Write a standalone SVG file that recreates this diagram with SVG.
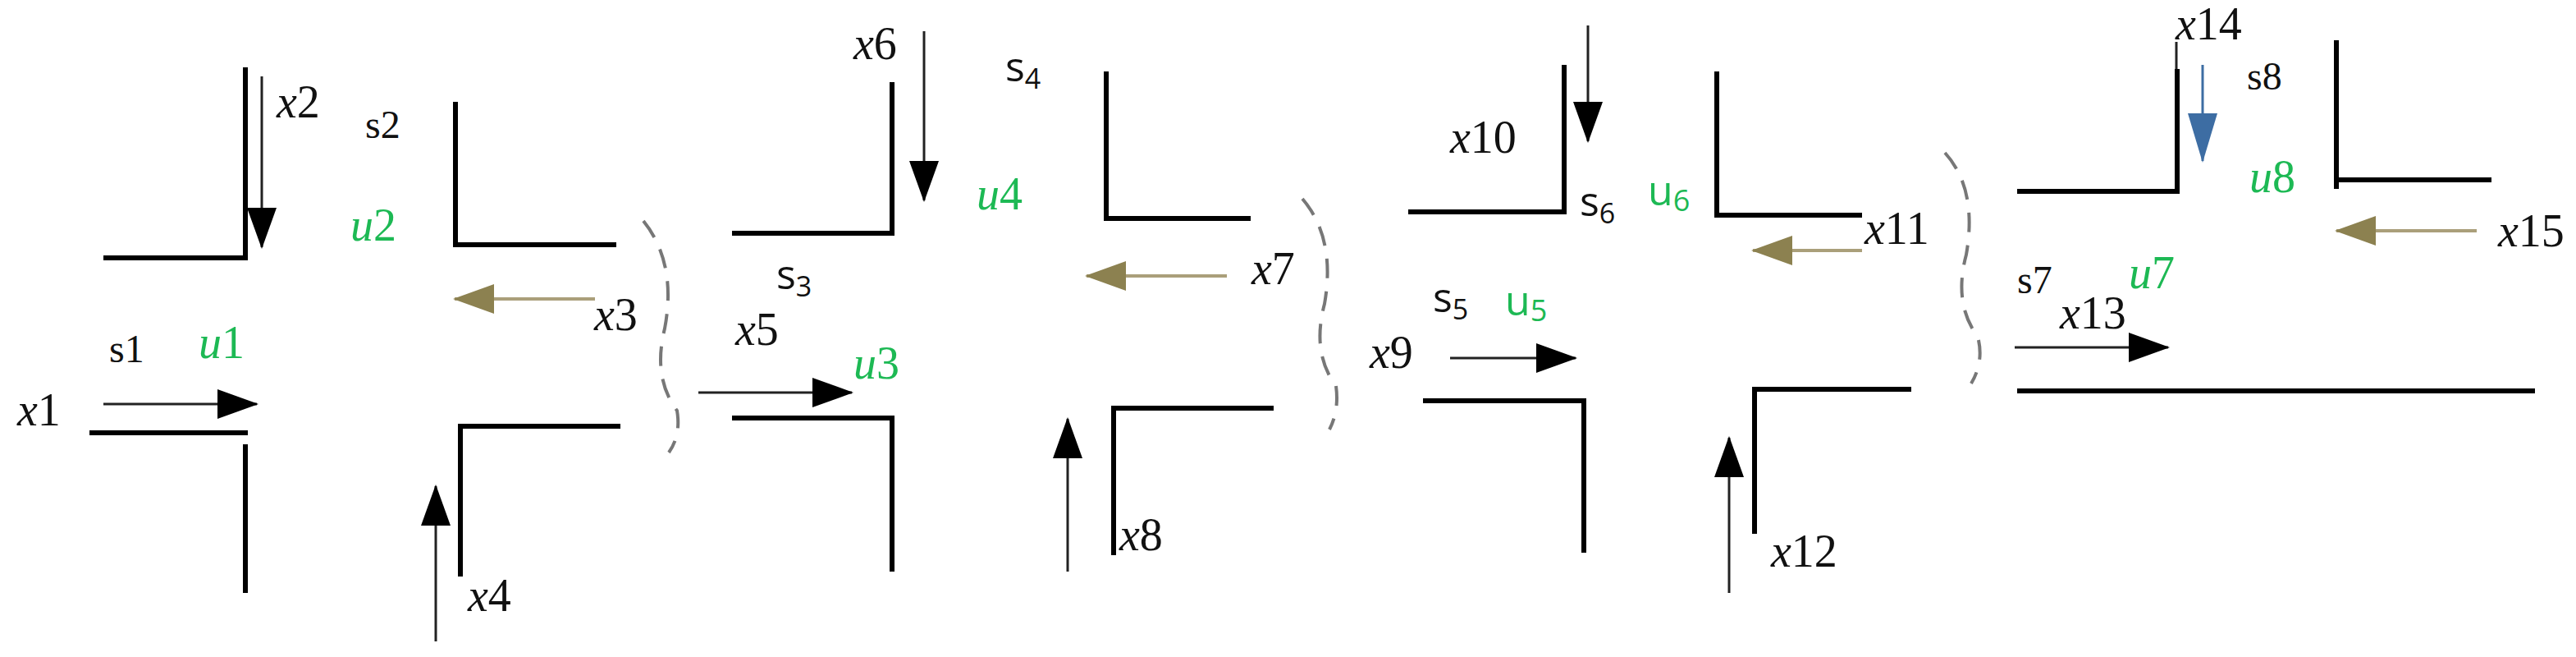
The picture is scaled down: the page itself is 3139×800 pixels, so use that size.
<svg xmlns="http://www.w3.org/2000/svg" width="3139" height="800" viewBox="0 0 3139 800">
<style>
.w{fill:none;stroke:#000;stroke-width:6}
.a{fill:none;stroke:#222;stroke-width:3}
.o{fill:none;stroke:#aa9f7a;stroke-width:4}
.b{fill:none;stroke:#3d6da3;stroke-width:3}
.d{fill:none;stroke:#777;stroke-width:4;stroke-dasharray:24 16}
.x{font-family:"Liberation Serif",serif;font-size:56px;fill:#111}
.x .i{font-style:italic}
.s{font-family:"Liberation Serif",serif;font-size:48px;fill:#111}
.n{font-family:"Open Sans",sans-serif;font-size:50px;fill:#111}
.u{font-family:"Liberation Serif",serif;font-size:56px;fill:#1db954}
.u .i{font-style:italic}
.un{font-family:"Open Sans",sans-serif;font-size:50px;fill:#1db954}
</style>
<defs>
<marker id="mk" markerUnits="userSpaceOnUse" markerWidth="50" markerHeight="36" refX="48" refY="18" orient="auto"><path d="M0,0 L50,18 L0,36 Z" fill="#000"/></marker>
<marker id="mo" markerUnits="userSpaceOnUse" markerWidth="50" markerHeight="36" refX="48" refY="18" orient="auto"><path d="M0,0 L50,18 L0,36 Z" fill="#8c8150"/></marker>
<marker id="mb" markerUnits="userSpaceOnUse" markerWidth="60" markerHeight="36" refX="58" refY="18" orient="auto"><path d="M0,0 L60,18 L0,36 Z" fill="#3d6da3"/></marker>
</defs>
<g id="walls">
<path class="w" d="M126,314 H299 V82"/>
<path class="w" d="M109,527 H302 M299,541 V722"/>
<path class="w" d="M555,124 V298 H751"/>
<path class="w" d="M561,702 V519 H756"/>
<path class="w" d="M892,284 H1087 V100"/>
<path class="w" d="M892,509 H1087 V696"/>
<path class="w" d="M1348,87 V266 H1524"/>
<path class="w" d="M1357,676 V497 H1552"/>
<path class="w" d="M1716,258 H1906 V79"/>
<path class="w" d="M1734,488 H1930 V673"/>
<path class="w" d="M2092,87 V262 H2269"/>
<path class="w" d="M2138,650 V474 H2329"/>
<path class="w" d="M2458,233 H2653 V84"/>
<path class="a" d="M2652,84 V51"/>
<path class="w" d="M2847,49 V230 M2847,219 H3036"/>
<path class="w" d="M2458,476 H3089"/>
</g>
<g id="boundaries">
<path class="d" d="M784,269 Q825,320 810,400 Q795,460 825,500 Q830,530 815,551"/>
<path class="d" d="M1587,242 Q1628,290 1614,370 Q1598,430 1628,470 Q1632,500 1620,523"/>
<path class="d" d="M2370,186 Q2410,230 2396,310 Q2380,370 2410,410 Q2418,440 2402,467"/>
</g>
<g id="connectors">
<path class="a" d="M126,492 H313" marker-end="url(#mk)"/>
<path class="a" d="M319,93 V301" marker-end="url(#mk)"/>
<path class="o" d="M725,364 H554" marker-end="url(#mo)"/>
<path class="a" d="M531,781 V592" marker-end="url(#mk)"/>
<path class="a" d="M851,478 H1038" marker-end="url(#mk)"/>
<path class="a" d="M1126,38 V244" marker-end="url(#mk)"/>
<path class="o" d="M1495,336 H1324" marker-end="url(#mo)"/>
<path class="a" d="M1301,696 V510" marker-end="url(#mk)"/>
<path class="a" d="M1767,436 H1920" marker-end="url(#mk)"/>
<path class="a" d="M1935,31 V172" marker-end="url(#mk)"/>
<path class="o" d="M2269,305 H2136" marker-end="url(#mo)"/>
<path class="a" d="M2107,722 V533" marker-end="url(#mk)"/>
<path class="b" d="M2684,79 V196" marker-end="url(#mb)"/>
<path class="o" d="M3018,281 H2847" marker-end="url(#mo)"/>
<path class="a" d="M2455,423 H2642" marker-end="url(#mk)"/>
</g>
<g id="labels">
<text class="x" x="21" y="518"><tspan class="i">x</tspan>1</text>
<text class="x" x="337" y="143"><tspan class="i">x</tspan>2</text>
<text class="x" x="724" y="402"><tspan class="i">x</tspan>3</text>
<text class="x" x="570" y="744"><tspan class="i">x</tspan>4</text>
<text class="x" x="896" y="420"><tspan class="i">x</tspan>5</text>
<text class="x" x="1040" y="72"><tspan class="i">x</tspan>6</text>
<text class="x" x="1525" y="346"><tspan class="i">x</tspan>7</text>
<text class="x" x="1364" y="670"><tspan class="i">x</tspan>8</text>
<text class="x" x="1669" y="448"><tspan class="i">x</tspan>9</text>
<text class="x" x="1767" y="186"><tspan class="i">x</tspan>10</text>
<text class="x" x="2272" y="297"><tspan class="i">x</tspan>11</text>
<text class="x" x="2158" y="690"><tspan class="i">x</tspan>12</text>
<text class="x" x="2510" y="400"><tspan class="i">x</tspan>13</text>
<text class="x" x="2651" y="48"><tspan class="i">x</tspan>14</text>
<text class="x" x="3044" y="300"><tspan class="i">x</tspan>15</text>
<text class="s" x="133" y="441">s1</text>
<text class="s" x="445" y="168">s2</text>
<text class="n" x="946" y="352">s<tspan font-size="34" dy="9">3</tspan></text>
<text class="n" x="1225" y="99">s<tspan font-size="34" dy="9">4</tspan></text>
<text class="n" x="1746" y="380">s<tspan font-size="34" dy="9">5</tspan></text>
<text class="n" x="1925" y="263">s<tspan font-size="34" dy="9">6</tspan></text>
<text class="s" x="2458" y="357">s7</text>
<text class="s" x="2738" y="109">s8</text>
<text class="u" x="242" y="436"><tspan class="i">u</tspan>1</text>
<text class="u" x="427" y="293"><tspan class="i">u</tspan>2</text>
<text class="u" x="1040" y="461"><tspan class="i">u</tspan>3</text>
<text class="u" x="1190" y="255"><tspan class="i">u</tspan>4</text>
<text class="un" x="1834" y="384">u<tspan font-size="36" dy="7">5</tspan></text>
<text class="un" x="2008" y="250">u<tspan font-size="36" dy="7">6</tspan></text>
<text class="u" x="2594" y="351"><tspan class="i">u</tspan>7</text>
<text class="u" x="2741" y="234"><tspan class="i">u</tspan>8</text>
</g>
</svg>
